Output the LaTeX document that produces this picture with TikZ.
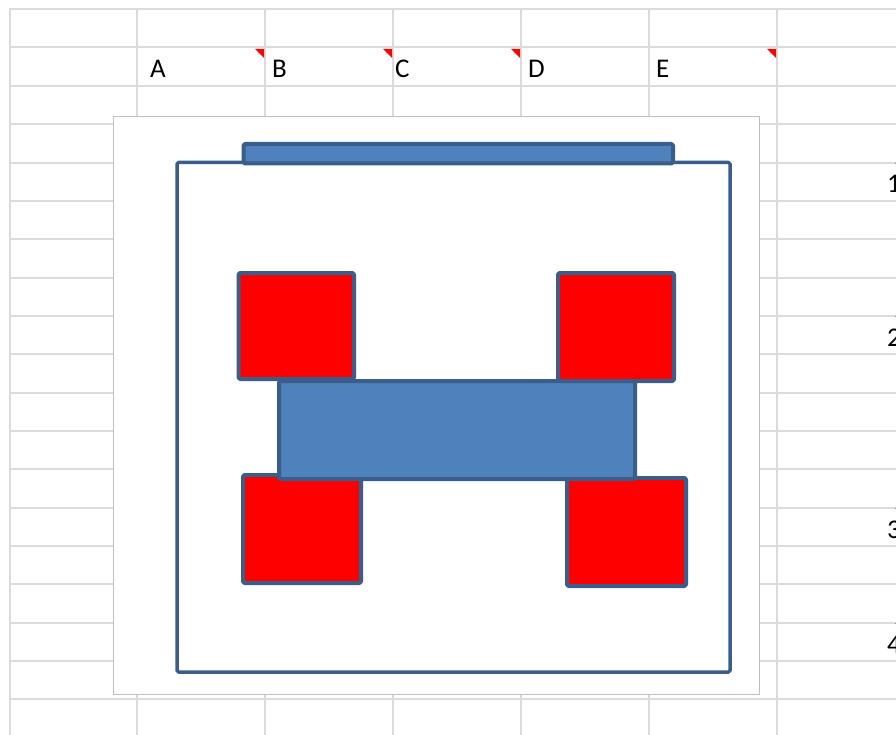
\documentclass[tikz,border=0pt]{standalone}
\usepackage{fontspec}
\setmainfont{Carlito}
\definecolor{gridc}{HTML}{DADBDC}
\definecolor{chartb}{HTML}{BFBFBF}
\definecolor{shapeline}{HTML}{3A5E8C}
\definecolor{shapeblue}{HTML}{4F81BD}
\tikzset{
  gridline/.style={draw=gridc, line width=2pt},
  hdr/.style={anchor=base west, inner sep=0pt, font=\fontsize{27}{32}\selectfont},
  corner/.style={fill=red},
  shapebox/.style={draw=shapeline, line width=4pt, line join=round, rounded corners=1.5pt},
  redbox/.style={shapebox, fill=red},
  bluebox/.style={shapebox, fill=shapeblue}
}
\begin{document}
\begin{tikzpicture}[x=1pt,y=-1pt]
\useasboundingbox (0,0) rectangle (896,735);
\clip (0,0) rectangle (896,735);
\fill[white] (0,0) rectangle (896,735);
% grid
\foreach \x in {10,137,265,393,521,649,777} \draw[gridline] (\x,8) -- (\x,736);
\foreach \y in {9,47,86,124,163,201,239,278,316,354,393,431,469,508,546,584,623,661,699} \draw[gridline] (9,\y) -- (897,\y);
% comment markers
\foreach \x in {265,393,521,777} \fill[corner] (\x-10,49) -- (\x-1,49) -- (\x-1,58) -- cycle;
\foreach \y in {165,318,510,625} \fill[corner] (895,\y-2) -- (904,\y-2) -- (904,\y+7) -- cycle;
% header letters
\node[hdr] (hA) at (150,78) {A};
\node[hdr] (hB) at (272,78) {B};
\node[hdr] (hC) at (395,78) {C};
\node[hdr] (hD) at (528,78) {D};
\node[hdr] (hE) at (656,78) {E};
% row numbers (cut off at the right)
\node[hdr] (n1) at (887,193) {1};
\node[hdr] (n2) at (887,346) {2};
\node[hdr] (n3) at (887,538) {3};
\node[hdr] (n4) at (887,653) {4};
% chart area
\draw[draw=chartb, fill=white, line width=1pt] (113.5,116.5) rectangle (759.5,694.5);
% frame
\draw[shapebox, line width=3.5pt, fill=white] (177,162.5) rectangle (730,672);
% top bar
\draw[bluebox] (243.5,144) rectangle (673,163.5);
% red squares
\draw[redbox] (238.5,273) rectangle (354,379);
\draw[redbox] (558,273) rectangle (674,381);
\draw[redbox] (243,475) rectangle (361,583);
\draw[redbox] (567,478) rectangle (686,586);
% middle blue
\draw[bluebox] (279,381) rectangle (635,479);
\end{tikzpicture}
\end{document}
